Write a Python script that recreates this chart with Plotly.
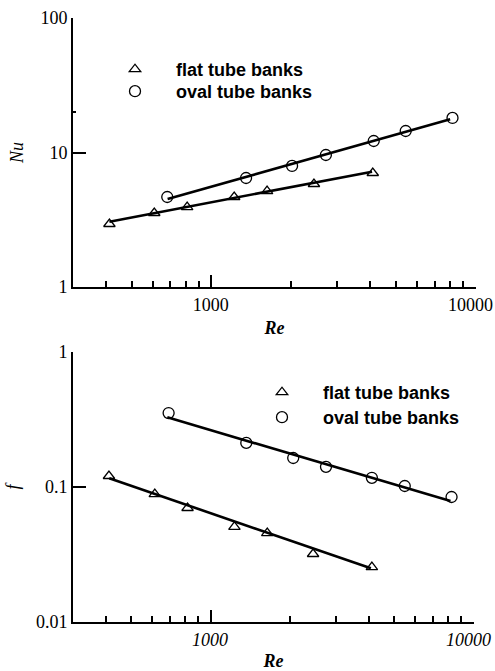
import plotly.graph_objects as go

# ---------------- data ----------------
# Top panel: Nusselt number vs Reynolds number
nu_flat_re = [412, 609, 811, 1222, 1627, 2448, 4087]
nu_flat = [2.94, 3.55, 3.93, 4.67, 5.17, 5.83, 7.04]
nu_oval_re = [682, 1355, 2023, 2716, 4121, 5445, 8186]
nu_oval = [4.67, 6.46, 7.94, 9.58, 12.18, 14.45, 18.06]
# fitted lines (end points)
nu_flat_fit_re = [412, 4062]
nu_flat_fit = [3.06, 7.20]
nu_oval_fit_re = [684, 8020]
nu_oval_fit = [4.51, 17.65]

# Bottom panel: friction factor vs Reynolds number
f_flat_re = [411, 614, 818, 1233, 1644, 2455, 4108]
f_flat = [0.1206, 0.0887, 0.0699, 0.0506, 0.0456, 0.0319, 0.0255]
f_oval_re = [693, 1368, 2063, 2749, 4108, 5479, 8253]
f_oval = [0.353, 0.212, 0.164, 0.141, 0.117, 0.1017, 0.0843]
f_flat_fit_re = [412, 4073]
f_flat_fit = [0.116, 0.0250]
f_oval_fit_re = [685, 8180]
f_oval_fit = [0.328, 0.0788]

series_names = ["flat tube banks", "oval tube banks"]

x_major = [1000, 10000]
x_major_text = ["\u00a0\u00a01000", "10000"]
x_minor = [400, 500, 600, 700, 800, 900, 2000, 3000, 4000, 5000, 6000, 7000, 8000, 9000]
nu_ticks = [1, 10, 100]
f_ticks = [0.01, 0.1, 1]

# ---------------- figure ----------------
W, H = 495, 671
SERIF = "Liberation Serif"
SANS = "Liberation Sans"

fig = go.Figure()

mk_line = dict(color="black", width=1.3)

def add_panel(xa, ya, legends, re_f, y_f, re_o, y_o, fre_f, fy_f, fre_o, fy_o):
    fig.add_trace(go.Scatter(x=fre_f, y=fy_f, mode="lines", xaxis=xa, yaxis=ya,
                             line=dict(color="black", width=2.6), showlegend=False))
    fig.add_trace(go.Scatter(x=fre_o, y=fy_o, mode="lines", xaxis=xa, yaxis=ya,
                             line=dict(color="black", width=2.6), showlegend=False))
    fig.add_trace(go.Scatter(x=re_f, y=y_f, mode="markers", xaxis=xa, yaxis=ya,
                             name=series_names[0], legend=legends[0],
                             marker=dict(symbol="triangle-up-open", size=10, color="black", line=mk_line)))
    fig.add_trace(go.Scatter(x=re_o, y=y_o, mode="markers", xaxis=xa, yaxis=ya,
                             name=series_names[1], legend=legends[1],
                             marker=dict(symbol="circle-open", size=11, color="black", line=mk_line)))

add_panel("x", "y", ["legend", "legend2"], nu_flat_re, nu_flat, nu_oval_re, nu_oval,
          nu_flat_fit_re, nu_flat_fit, nu_oval_fit_re, nu_oval_fit)
add_panel("x2", "y2", ["legend3", "legend4"], f_flat_re, f_flat, f_oval_re, f_oval,
          f_flat_fit_re, f_flat_fit, f_oval_fit_re, f_oval_fit)

def xaxis(domain, anchor, italic):
    txt = [("<i>%s</i>" % t) if italic else t for t in x_major_text]
    return dict(type="log", domain=domain, anchor=anchor, range=[2.4771, 4.002],
                automargin=False, ticklabeloverflow="allow", ticklabelshift=-5,
                showline=True, linecolor="black", linewidth=2, mirror=False,
                showgrid=False, zeroline=False,
                tickmode="array", tickvals=x_major, ticktext=txt,
                ticks="inside", ticklen=12, tickwidth=1.5, tickcolor="black",
                tickfont=dict(family=SERIF, size=18, color="black"),
                minor=dict(tickmode="array", tickvals=x_minor, ticks="inside",
                           ticklen=6, tickwidth=1.5, tickcolor="black", showgrid=False),
                title=dict(text="<b><i>Re</i></b>", font=dict(family=SERIF, size=18, color="black"),
                           standoff=8))

def yaxis(domain, anchor, rng, vals, title, minor_vals):
    return dict(type="log", domain=domain, anchor=anchor, range=rng,
                automargin=False, ticklabeloverflow="allow",
                showline=True, linecolor="black", linewidth=2,
                showgrid=False, zeroline=False,
                tickmode="array", tickvals=vals, ticktext=[("%g" % v) for v in vals],
                ticks="inside", ticklen=13, tickwidth=1.5, tickcolor="black",
                tickfont=dict(family=SERIF, size=18, color="black"),
                minor=dict(tickmode="array", tickvals=minor_vals, ticks="inside",
                           ticklen=3, tickwidth=1.5, tickcolor="black", showgrid=False),
                title=dict(text=title, font=dict(family=SERIF, size=18, color="black"),
                           standoff=12))

x_dom = [73 / W, 476 / W]
x_dom2 = [73 / W, 474 / W]
y_dom = [(H - 287) / H, (H - 18) / H]
y_dom2 = [(H - 622) / H, (H - 352) / H]

legend_common = dict(xanchor="left", yanchor="top", bgcolor="rgba(0,0,0,0)",
                     font=dict(family=SANS, size=18, color="black", weight="bold"),
                     itemwidth=72, tracegroupgap=0, borderwidth=0)

fig.update_layout(
    width=W, height=H,
    margin=dict(l=0, r=0, t=0, b=0),
    paper_bgcolor="white", plot_bgcolor="white",
    xaxis=xaxis(x_dom, "y", False),
    yaxis=yaxis(y_dom, "x", [0, 2], nu_ticks, "<i>Nu</i>", [20]),
    xaxis2=xaxis(x_dom2, "y2", True),
    yaxis2=yaxis(y_dom2, "x2", [-2, 0], f_ticks, "<i>f</i>", []),
    legend=dict(x=94 / W, y=(H - 51) / H, **legend_common),
    legend2=dict(x=94 / W, y=(H - 73) / H, **legend_common),
    legend3=dict(x=241 / W, y=(H - 374) / H, **legend_common),
    legend4=dict(x=241 / W, y=(H - 399) / H, **legend_common),
    showlegend=True,
)

fig.write_html("out.html", config={"displayModeBar": False},
               post_script="document.body.style.margin='0';")
